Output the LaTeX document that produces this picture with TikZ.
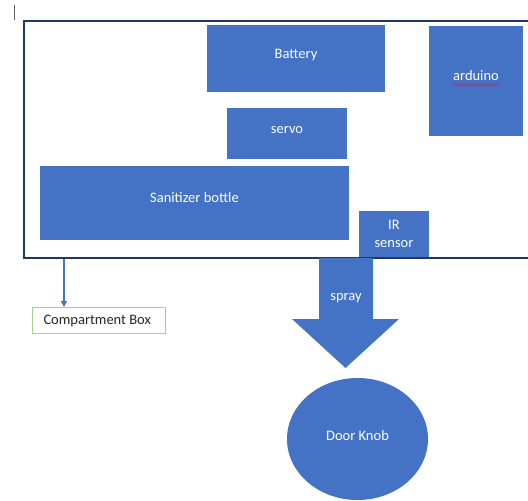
\documentclass[tikz,border=0pt]{standalone}
\usepackage{fontspec}
\setmainfont{Carlito}
\usetikzlibrary{arrows.meta,shapes.geometric,decorations.pathmorphing}
\definecolor{oblue}{HTML}{4472C4}
\definecolor{navy}{HTML}{203864}
\definecolor{lgreen}{HTML}{A9D18E}
\definecolor{squig}{HTML}{B4306A}
\begin{document}
\begin{tikzpicture}[x=1bp,y=-1bp,
  every node/.style={font=\fontsize{14.5bp}{18bp}\selectfont},
  blkbase/.style={draw=none, fill=oblue, text=white, inner sep=0pt},
  mid/.style={text height=10bp, text depth=10bp},
  blk/.style={blkbase, mid}]
\useasboundingbox (0,0) rectangle (528,501);
% cursor bar
\draw[gray!70!black, line width=1bp] (14,5) -- (14,20);
% component blocks
\node[blk, minimum width=178bp, minimum height=67bp] (battery) at (296,58.5) {Battery};
\node[blk, minimum width=94bp, minimum height=110bp] (arduino) at (476,81) {arduino};
\node[blk, minimum width=120bp, minimum height=51bp] (servo) at (287,133.5) {servo};
\node[blk, minimum width=309bp, minimum height=74bp] (bottle) at (194.5,203) {Sanitizer bottle};
\node[blkbase, minimum width=70bp, minimum height=46bp, align=center] (ir) at (394,234) {IR\\sensor};
% spell-check squiggle under arduino
\draw[squig, line width=0.8bp, decorate, decoration={snake, amplitude=1.2bp, segment length=4bp}] (453,84.5) -- (500,84.5);
% enclosure (open to the right)
\draw[navy, line width=2bp] (530,21) -- (24,21) -- (24,258) -- (530,258);
% spray block arrow
\fill[oblue] (319,258) -- (373,258) -- (373,319) -- (399,319) -- (345.5,368)
  -- (292,319) -- (319,319) -- cycle;
\node[mid, text=white, inner sep=0pt] (spray) at (346,300) {spray};
% door knob
\node[ellipse, fill=oblue, text=white, inner sep=0pt, mid,
  minimum width=141bp, minimum height=122bp] (knob) at (357.5,439) {};
\node[mid, text=white, inner sep=0pt] (knobtxt) at (357.5,440) {Door Knob};
% compartment box
\node[draw=lgreen, line width=1bp, anchor=north west, minimum height=26bp,
  text width=111bp, inner xsep=11bp, inner ysep=0pt, align=left,
  text height=10bp, text depth=3bp, text=black!85] (cbox) at (32,307) {Compartment\hspace{0.22em}Box};
\coordinate (tap) at (64,259);
\draw[oblue, line width=2bp, -{Triangle[length=6bp,width=6bp]}] (tap) -- (tap |- cbox.north);
\end{tikzpicture}
\end{document}
